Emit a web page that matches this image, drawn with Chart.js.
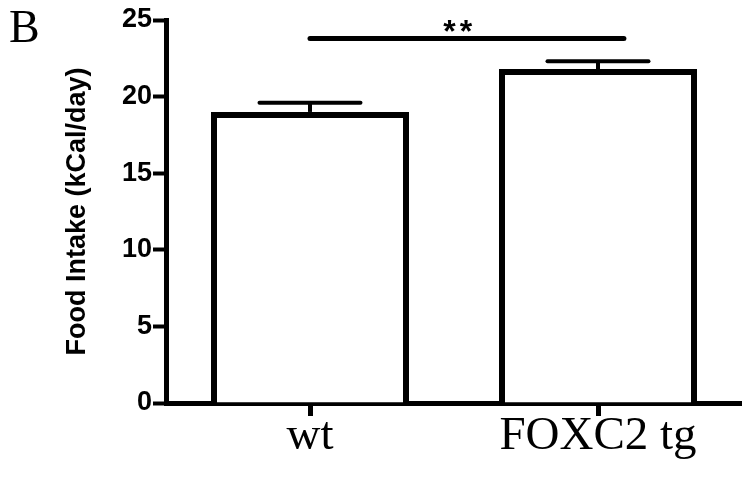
<!DOCTYPE html>
<html>
<head>
<meta charset="utf-8">
<script src="https://cdn.jsdelivr.net/npm/chart.js@4.4.0/dist/chart.umd.min.js"></script>
<style>
body { margin: 0; background: #fff; }
#wrap { position: relative; width: 742px; height: 478px; background: #fff; }
#panel { position: absolute; left: 9px; top: 0px; font: 46px 'Liberation Serif', serif; color: #000; }
</style>
</head>
<body>
<div id="wrap">
  <canvas id="chart"></canvas>
  <div id="panel">B</div>
</div>
<script>
const groups = ['wt', 'FOXC2 tg'];
const intake = [19.0, 21.8];
const sem = [0.6, 0.5];
const yTicks = [0, 5, 10, 15, 20, 25];
const sigPair = [0, 1.09];
const sigLevel = 23.8;
const sigText = '**';

// error bars, upward only
const errorBars = {
  id: 'errorBars',
  afterDatasetsDraw(chart) {
    const ctx = chart.ctx;
    const y = chart.scales.y;
    chart.getDatasetMeta(0).data.forEach((bar, i) => {
      const top = y.getPixelForValue(intake[i] + sem[i]);
      const half = bar.width * 0.255;
      ctx.save();
      ctx.strokeStyle = '#000';
      ctx.lineWidth = 4;
      ctx.beginPath();
      ctx.moveTo(bar.x, bar.y);
      ctx.lineTo(bar.x, top);
      ctx.stroke();
      ctx.lineCap = 'round';
      ctx.beginPath();
      ctx.moveTo(bar.x - half, top);
      ctx.lineTo(bar.x + half, top);
      ctx.stroke();
      ctx.restore();
    });
  }
};

// significance bar with stars
const sigBar = {
  id: 'sigBar',
  afterDraw(chart) {
    const ctx = chart.ctx;
    const x = chart.scales.x;
    const y = chart.scales.y;
    const sy = y.getPixelForValue(sigLevel);
    ctx.save();
    ctx.strokeStyle = '#000';
    ctx.lineWidth = 5;
    ctx.lineCap = 'round';
    ctx.beginPath();
    ctx.moveTo(x.getPixelForValue(sigPair[0]), sy);
    ctx.lineTo(x.getPixelForValue(sigPair[1]), sy);
    ctx.stroke();
    ctx.fillStyle = '#000';
    ctx.font = 'bold 32px "Liberation Sans", Arial, sans-serif';
    ctx.letterSpacing = '4px';
    ctx.textAlign = 'center';
    ctx.textBaseline = 'alphabetic';
    ctx.fillText(sigText, x.getPixelForValue(0.52), sy + 4);
    ctx.restore();
  }
};

new Chart(document.getElementById('chart'), {
  type: 'bar',
  data: {
    labels: groups,
    datasets: [{
      data: intake,
      backgroundColor: '#fff',
      borderColor: '#000',
      borderWidth: 6,
      barPercentage: 0.6875,
      categoryPercentage: 1
    }]
  },
  options: {
    responsive: true,
    maintainAspectRatio: false,
    animation: false,
    layout: { padding: { top: 20, right: 0, left: 0, bottom: 0 } },
    plugins: { legend: { display: false }, tooltip: { enabled: false } },
    scales: {
      x: {
        afterFit: s => { s.height = 75; },
        grid: { display: true, drawOnChartArea: false, offset: false, tickLength: 13, tickWidth: 5, color: '#000' },
        border: { display: true, width: 5, color: '#000' },
        ticks: {
          color: '#000',
          padding: -3,
          font: { family: '"Liberation Serif", "Times New Roman", serif', size: 47, lineHeight: 1 }
        }
      },
      y: {
        min: 0,
        max: 25,
        afterFit: s => { s.width = 166; },
        afterBuildTicks: s => { s.ticks = yTicks.map(v => ({ value: v })); },
        grid: { display: true, drawOnChartArea: false, tickLength: 13, tickWidth: 4, color: '#000' },
        border: { display: true, width: 5, color: '#000' },
        ticks: {
          color: '#000',
          padding: 1,
          font: { family: '"Liberation Sans", Arial, sans-serif', size: 27, weight: 'bold' }
        },
        title: {
          display: true,
          text: 'Food Intake (kCal/day)',
          color: '#000',
          padding: { top: 61, bottom: 0 },
          font: { family: '"Liberation Sans", Arial, sans-serif', size: 27, weight: 'bold', lineHeight: 1.2 }
        }
      }
    }
  },
  plugins: [errorBars, sigBar]
});
</script>
</body>
</html>
